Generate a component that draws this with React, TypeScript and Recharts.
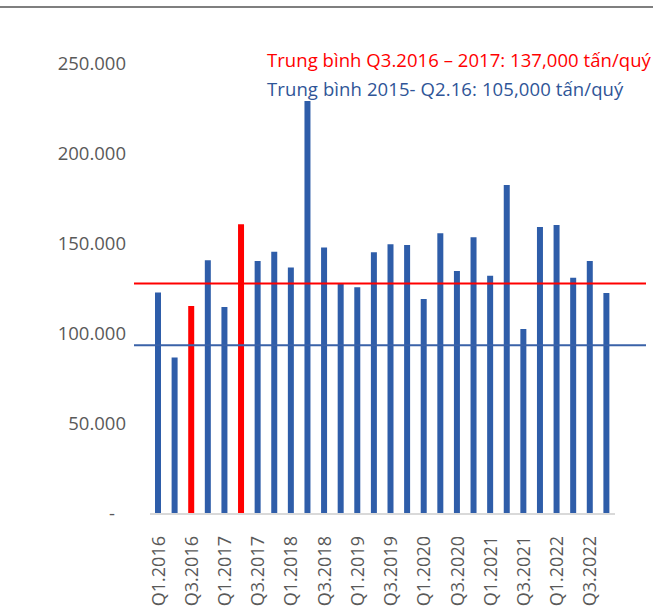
import React from "react";
import { BarChart, Bar, XAxis, YAxis, ReferenceLine, Cell } from "recharts";

const quarters = [
  "Q1.2016", "Q2.2016", "Q3.2016", "Q4.2016",
  "Q1.2017", "Q2.2017", "Q3.2017", "Q4.2017",
  "Q1.2018", "Q2.2018", "Q3.2018", "Q4.2018",
  "Q1.2019", "Q2.2019", "Q3.2019", "Q4.2019",
  "Q1.2020", "Q2.2020", "Q3.2020", "Q4.2020",
  "Q1.2021", "Q2.2021", "Q3.2021", "Q4.2021",
  "Q1.2022", "Q2.2022", "Q3.2022", "Q4.2022",
];

const volumes = [
  123000, 87000, 115500, 141000,
  115000, 161000, 140500, 145700,
  137000, 229400, 148000, 128000,
  126000, 145400, 149800, 149400,
  119400, 156000, 135000, 153700,
  132400, 182800, 102800, 159400,
  160500, 131300, 140500, 122800,
];

const highlighted = ["Q3.2016", "Q2.2017"];

const yTicks = [0, 50000, 100000, 150000, 200000, 250000];

const avgRecent = 128000;
const avgEarly = 93700;

const labelRecent = "Trung bình Q3.2016 – 2017: 137,000 tấn/quý";
const labelEarly = "Trung bình 2015- Q2.16: 105,000 tấn/quý";

const data = quarters.map((q, i) => ({ quarter: q, value: volumes[i] }));

const FONT = "'Open Sans', Lato, sans-serif";
const GRAY = "#595959";
const BLUE = "#2E5DA9";
const RED = "#FF0000";

const YTick = (props: any) => {
  const { x, y, payload } = props;
  const v = payload.value as number;
  const txt = v === 0 ? "-" : v.toLocaleString("de-DE");
  return (
    <text
      x={v === 0 ? x - 11 : x}
      y={y}
      dy="0.35em"
      textAnchor="end"
      fill={GRAY}
      fontSize={18.5}
      fontFamily={FONT}
    >
      {txt}
    </text>
  );
};

const XTick = (props: any) => {
  const { x, y, payload } = props;
  const ty = y + 14;
  return (
    <text
      x={x}
      y={ty}
      dy="0.35em"
      textAnchor="end"
      transform={`rotate(-90, ${x}, ${ty})`}
      fill={GRAY}
      fontSize={18}
      fontFamily={FONT}
    >
      {payload.value}
    </text>
  );
};

const ExtendedLine = (color: string, width: number) => (props: any) => {
  const { x1, y1, x2, y2 } = props;
  return (
    <line
      x1={x1 - 16}
      y1={y1}
      x2={x2 + 31}
      y2={y2}
      stroke={color}
      strokeWidth={width}
    />
  );
};

export default function App() {
  return (
    <div
      style={{
        position: "absolute",
        left: 0,
        top: 0,
        width: 668,
        height: 607,
        background: "#fff",
      }}
    >
      <div
        style={{
          position: "absolute",
          left: 0,
          top: 6,
          width: 653,
          height: 2,
          background: "#7F7F7F",
        }}
      />
      <BarChart
        width={668}
        height={607}
        data={data}
        margin={{ top: 64, right: 53, bottom: 0, left: 0 }}
        barCategoryGap={0}
      >
        <XAxis
          dataKey="quarter"
          interval={1}
          height={93}
          tickLine={false}
          axisLine={{ stroke: "#D9D9D9", strokeWidth: 2 }}
          tick={<XTick />}
        />
        <YAxis
          width={150}
          domain={[0, 250000]}
          ticks={yTicks}
          axisLine={false}
          tickLine={false}
          tickSize={0}
          tickMargin={24}
          tick={<YTick />}
        />
        <Bar dataKey="value" barSize={6} isAnimationActive={false}>
          {data.map((d) => (
            <Cell
              key={d.quarter}
              fill={highlighted.includes(d.quarter) ? RED : BLUE}
            />
          ))}
        </Bar>
        <ReferenceLine y={avgRecent} shape={ExtendedLine(RED, 2)} />
        <ReferenceLine y={avgEarly} shape={ExtendedLine("#3A62A8", 2)} />
      </BarChart>
      <div
        style={{
          position: "absolute",
          left: 267,
          top: 47,
          fontFamily: FONT,
          fontSize: 18.5,
          letterSpacing: 0.05,
          color: RED,
          whiteSpace: "nowrap",
          lineHeight: "26px",
        }}
      >
        {labelRecent}
      </div>
      <div
        style={{
          position: "absolute",
          left: 267,
          top: 76,
          fontFamily: FONT,
          fontSize: 18.5,
          letterSpacing: 0.1,
          color: "#2F5597",
          whiteSpace: "nowrap",
          lineHeight: "26px",
        }}
      >
        {labelEarly}
      </div>
    </div>
  );
}
